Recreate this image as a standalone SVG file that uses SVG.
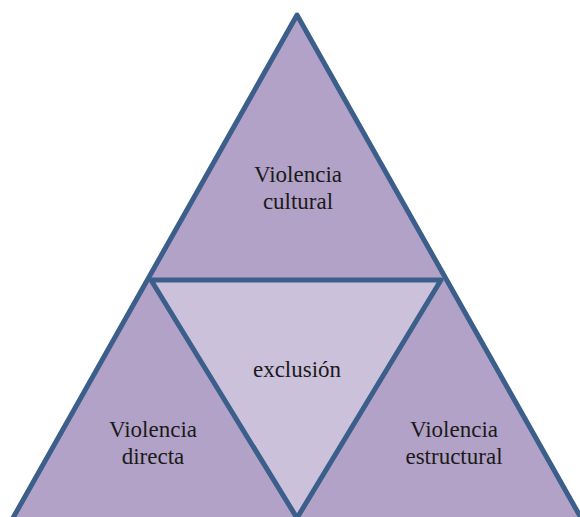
<svg xmlns="http://www.w3.org/2000/svg" width="580" height="517" viewBox="0 0 580 517">
<style>
.outer{fill:#b3a2c7;stroke:#3b5f8a;stroke-width:5;stroke-linejoin:round}
.inner{fill:#ccc1da;stroke:#3b5f8a;stroke-width:5;stroke-linejoin:round}
.t{font-size:23px;fill:#1a1a1a;text-anchor:middle}
</style>
<rect width="580" height="517" fill="#ffffff"/>
<g id="outer-triangle">
<polygon class="outer" points="297,15 -4,548 598,548"/>
</g>
<g font-family="Liberation Serif, Times New Roman, Tinos, DejaVu Serif, serif">
<g id="exclusion">
<polygon class="inner" points="151,280 441,280 297,518"/>
<text class="t" x="297" y="377">exclusión</text>
</g>
<g id="cultural">
<text class="t" x="298" y="182">Violencia</text>
<text class="t" x="298" y="209">cultural</text>
</g>
<g id="directa">
<text class="t" x="153" y="437">Violencia</text>
<text class="t" x="153" y="464">directa</text>
</g>
<g id="estructural">
<text class="t" x="454" y="437">Violencia</text>
<text class="t" x="454" y="464">estructural</text>
</g>
</g>
<g id="connectors"></g>
</svg>
